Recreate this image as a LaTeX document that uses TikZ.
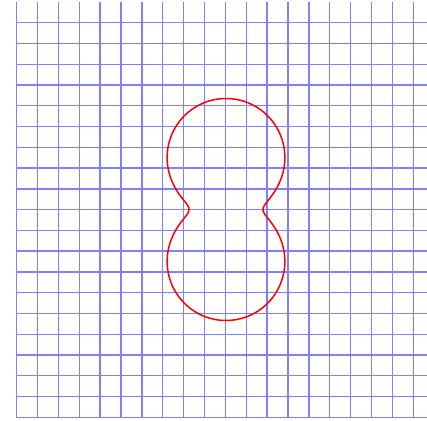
\documentclass[tikz,border=0pt]{standalone}
\usepackage{tikz}
\tikzset{
  cuadricula/.style={
    blue!50,
    line width=1.4pt
  },
  lazo/.style={
    red,
    line width=1.5pt,
    line join=round
  }
}
\begin{document}
\begin{tikzpicture}[x=1pt,y=-1pt]
\useasboundingbox (0,0) rectangle (427,420);
% rejilla
\foreach \i in {0,...,19}
  \draw[cuadricula] ({16.7+20.87*\i},1.7) -- ({16.7+20.87*\i},418);
\foreach \j in {0,...,19}
  \draw[cuadricula] (16.7,{22.7+20.77*\j}) -- (427,{22.7+20.77*\j});
% curva
\coordinate (O) at (226,209.5);
\draw[lazo,shift={(O)}] plot[domain=0:358.5,samples=240,smooth cycle,variable=\t]
  ({sqrt(1369*cos(\t)*cos(\t)+12321*sin(\t)*sin(\t))*cos(\t)},
   {sqrt(1369*cos(\t)*cos(\t)+12321*sin(\t)*sin(\t))*sin(\t)});
\end{tikzpicture}
\end{document}
